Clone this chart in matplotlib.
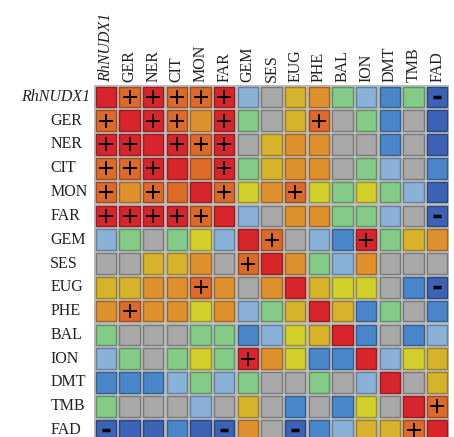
import numpy as np
import matplotlib
matplotlib.use('Agg')
import matplotlib.pyplot as plt
from matplotlib.patches import Rectangle
from matplotlib.colors import to_rgb

# 标签
labels = ["RhNUDX1", "GER", "NER", "CIT", "MON", "FAR", "GEM", "SES",
          "EUG", "PHE", "BAL", "ION", "DMT", "TMB", "FAD"]

# 颜色等级 (R 红 ... D 深蓝)
cells = [
    "ROROORBSYAGBMGD",
    "ORROARGSYOSGMSD",
    "RRRRORSYAASSMSD",
    "OORROORGYAASGBSM"[1:],
    "OAOOROLAOLGLGBD",
    "RRRRORBSAAGGBSD",
    "BGSGLBROSBMRGYA",
    "SSYYASORAGBASSS",
    "YYAAOASARYLLSMD",
    "AOAALABGYRYMGSM",
    "GSSSGGMBLYRMSMB",
    "BGSGLGRALMMRBLY",
    "MMMBGBGSSGSBRSY",
    "GSSSBSYSMSMLSRO",
    "DDDMDDASDMBYYOR",
]
cells[3] = "OORRORGYAASGBSM"

# 正负相关符号
signs = [
    " +++++        -",
    "+ ++ +   +     ",
    "++ +++         ",
    "+++  +         ",
    "+ +  +  +      ",
    "+++++         -",
    "       +   +   ",
    "      +        ",
    "    +         -",
    " +             ",
    "               ",
    "      +        ",
    "               ",
    "              +",
    "-    -  -    + ",
]

palette = {
    'R': '#d7252b', 'O': '#dd6a29', 'A': '#df912e', 'Y': '#d7b32c',
    'L': '#d3cf2b', 'G': '#84cb88', 'S': '#a9a9a9', 'B': '#8ab2d8',
    'M': '#4a86ca', 'D': '#3b62b4',
}

n = len(labels)
fig = plt.figure(figsize=(4.54, 4.37), dpi=100)
W, H = 454, 437
ax = fig.add_axes([94 / W, (H - 442) / H, 355 / W, 357 / H])
ax.set_facecolor('#bcbcbc')
ax.set_xlim(0, n)
ax.set_ylim(n, 0)

gap = 0.07
for i in range(n):
    for j in range(n):
        c = np.array(to_rgb(palette[cells[i][j]]))
        ax.add_patch(Rectangle((j + gap, i + gap), 1 - 2 * gap, 1 - 2 * gap,
                               facecolor=c, edgecolor=c * 0.72, lw=1.0))
        s = signs[i][j]
        if s == '+':
            ax.plot(j + 0.5, i + 0.5, marker='+', ms=10, mew=1.4, color='black')
        elif s == '-':
            ax.plot(j + 0.5, i + 0.5, marker='_', ms=5.5, mew=2.5, color='black')

ax.set_xticks([])
ax.set_yticks([])
for sp in ax.spines.values():
    sp.set_visible(False)

font = dict(family='Liberation Serif', fontsize=11.5, color='#222222')
for k, lab in enumerate(labels):
    style = 'italic' if k == 0 else 'normal'
    # 列标签
    ax.text(k + 0.5, -0.12, lab, rotation=90, ha='center', va='bottom',
            style=style, **font)
    # 行标签
    if k == 0:
        ax.text(-0.15, k + 0.5, lab, ha='right', va='center', style=style, **font)
    else:
        ax.text(-1.85, k + 0.5, lab, ha='left', va='center', **font)

fig.savefig('out.png', dpi=100)
